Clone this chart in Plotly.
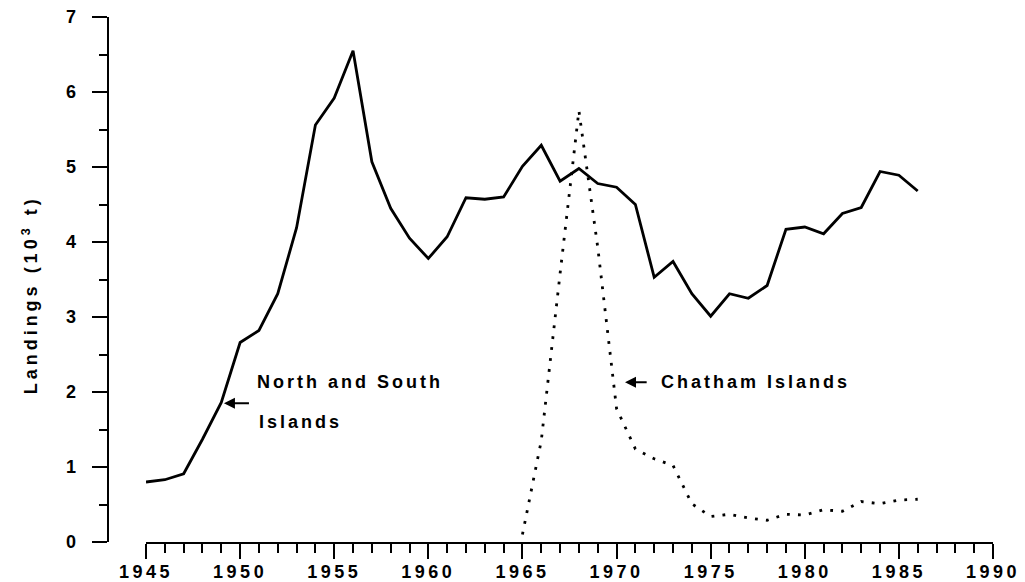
import plotly.graph_objects as go

# Data (10^3 t)
years_ns = list(range(1945, 1987))
north_south = [0.80, 0.83, 0.91, 1.37, 1.86, 2.66, 2.82, 3.31, 4.19, 5.56,
               5.92, 6.55, 5.07, 4.45, 4.05, 3.78, 4.07, 4.59, 4.57, 4.60,
               5.01, 5.29, 4.81, 4.98, 4.78, 4.73, 4.50, 3.53, 3.74, 3.31,
               3.01, 3.31, 3.25, 3.42, 4.17, 4.20, 4.11, 4.38, 4.46, 4.94,
               4.89, 4.68]
years_ch = list(range(1965, 1987))
chatham = [0.10, 1.35, 3.58, 5.75, 3.93, 1.78, 1.24, 1.11, 1.02, 0.51,
           0.34, 0.37, 0.32, 0.29, 0.37, 0.36, 0.43, 0.41, 0.54, 0.51,
           0.56, 0.57]

x_tick_vals = [1945, 1950, 1955, 1960, 1965, 1970, 1975, 1980, 1985, 1990]
x_tick_labels = ["1945", "1950", "1955", "1960", "1965", "1970", "1975",
                 "1980", "1985", "1990"]
y_tick_vals = [0, 1, 2, 3, 4, 5, 6, 7]
y_tick_labels = ["0", "1", "2", "3", "4", "5", "6", "7"]

x_range = [1945, 1990]
y_range = [0, 7]

FONT = "Liberation Sans, Arial, sans-serif"


def spaced(s, sp=3.5):
    return "<span style='letter-spacing:%spx'>%s</span>" % (sp, s)


tickfont = dict(family=FONT, size=18, color="black", weight="bold")
ann_font = dict(family=FONT, size=18, color="black", weight="bold")

fig = go.Figure()
fig.add_trace(go.Scatter(x=years_ns, y=north_south, mode="lines",
                         line=dict(color="black", width=2.8),
                         name="North and South Islands", showlegend=False))
fig.add_trace(go.Scatter(x=years_ch, y=chatham, mode="lines",
                         line=dict(color="black", width=2.8, dash="2.8px,8.2px"),
                         name="Chatham Islands", showlegend=False))

annotations = [
    # North and South Islands (arrow attached to first line's box)
    dict(x=1949.14, y=1.85, ax=1950.47, ay=1.85, axref="x", ayref="y",
         xref="x", yref="y", text=spaced("North and South", 3),
         showarrow=True, arrowhead=2, arrowsize=1.1, arrowwidth=2,
         arrowcolor="black", xanchor="left", yanchor="middle",
         borderpad=7, height=63, valign="top", align="left", font=ann_font),
    dict(x=1950.90, y=1.60, xref="x", yref="y", text=spaced("Islands", 3),
         showarrow=False, xanchor="left", yanchor="middle", font=ann_font),
    # Chatham Islands
    dict(x=1970.45, y=2.13, ax=1971.6, ay=2.13, axref="x", ayref="y",
         xref="x", yref="y", text=spaced("Chatham Islands", 3),
         showarrow=True, arrowhead=2, arrowsize=1.1, arrowwidth=2,
         arrowcolor="black", xanchor="left", yanchor="middle",
         borderpad=13, font=ann_font),
    # Y-axis title
    dict(x=-0.088, y=0.47, xref="paper", yref="paper",
         text=spaced("Landings (10<sup>3</sup> t)", 4), textangle=-90,
         showarrow=False, xanchor="center", yanchor="middle", font=ann_font),
]

# The page body adds an 8px margin, so the figure is sized to fit the window.
fig.update_layout(
    width=1017, height=574,
    margin=dict(l=100, r=32, t=9, b=40),
    paper_bgcolor="white", plot_bgcolor="white",
    font=dict(family=FONT, color="black"),
    annotations=annotations,
    xaxis=dict(
        domain=[38 / 885, 1], range=x_range, showgrid=False, zeroline=False,
        automargin=False, ticklabeloverflow="allow",
        showline=True, linecolor="black", linewidth=2,
        ticks="outside", ticklen=15, tickwidth=2, tickcolor="black",
        tickmode="array", tickvals=x_tick_vals,
        ticktext=[spaced(t, 3.5) for t in x_tick_labels],
        tickfont=tickfont, ticklabelstandoff=-3,
        minor=dict(dtick=1, tick0=1945, ticks="outside", ticklen=9,
                   tickwidth=2, tickcolor="black", showgrid=False),
    ),
    yaxis=dict(
        anchor="free", position=0, range=y_range, showgrid=False,
        zeroline=False, automargin=False, ticklabeloverflow="allow",
        showline=True, linecolor="black", linewidth=2,
        ticks="outside", ticklen=15, tickwidth=2, tickcolor="black",
        tickmode="array", tickvals=y_tick_vals,
        ticktext=[spaced(t, 3.5) for t in y_tick_labels],
        tickfont=tickfont, ticklabelstandoff=9,
        minor=dict(dtick=0.5, tick0=0, ticks="outside", ticklen=8,
                   tickwidth=2, tickcolor="black", showgrid=False),
    ),
)

fig.write_html("out.html")
